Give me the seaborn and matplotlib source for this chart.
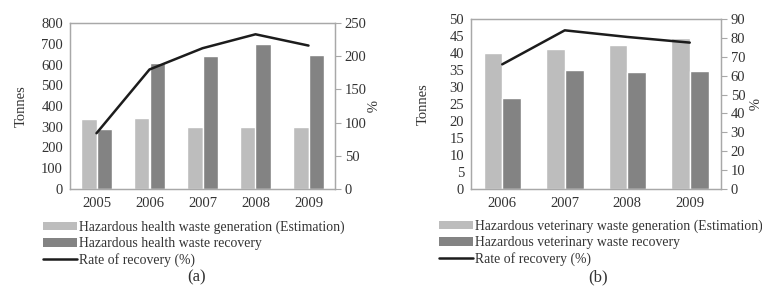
import pandas as pd
import matplotlib
matplotlib.use("Agg")
import matplotlib.pyplot as plt
import seaborn as sns
from matplotlib.patches import Patch
from matplotlib.lines import Line2D


# Data

years_a = ["2005", "2006", "2007", "2008", "2009"]
health_generation = [335, 340, 300, 300, 300]
health_recovery = [288, 606, 641, 697, 644]
health_rate = [84, 180, 212, 233, 216]

years_b = ["2006", "2007", "2008", "2009"]
vet_generation = [40.0, 41.3, 42.4, 44.3]
vet_recovery = [26.8, 35.1, 34.3, 34.7]
vet_rate = [66, 84, 80.5, 77.5]

LIGHT = "#bdbdbd"
DARK = "#838383"
LINE = "#1c1c1c"
FRAME = "#a8a8a8"
TEXT = "#333333"

sns.set_style("white")
plt.rcParams["font.family"] = ["Liberation Serif", "DejaVu Serif"]
plt.rcParams["text.color"] = TEXT
plt.rcParams["axes.labelcolor"] = TEXT
plt.rcParams["xtick.color"] = TEXT
plt.rcParams["ytick.color"] = TEXT


def panel(fig, rect, years, gen, rec, rate, gen_label, rec_label,
          ylim, ystep, rlim, rstep, bar_width, legend_anchor, pad_left, pad_right):

    ax = fig.add_axes(rect)

    df = pd.DataFrame({
        "Year": years * 2,
        "Tonnes": gen + rec,
        "Series": [gen_label] * len(years) + [rec_label] * len(years)
    })

    sns.barplot(
        data=df,
        x="Year",
        y="Tonnes",
        hue="Series",
        palette=[LIGHT, DARK],
        width=bar_width,
        saturation=1,
        legend=False,
        ax=ax
    )

    ax.set_ylim(*ylim)
    ax.set_yticks(range(0, ylim[1] + 1, ystep))
    ax.set_xlabel("")
    ax.set_ylabel("Tonnes", fontsize=10.5, labelpad=pad_left)
    ax.tick_params(axis="y", length=0, labelsize=10.5, pad=5)
    ax.tick_params(axis="x", which="major", length=0, labelsize=10.5, pad=6)
    ax.set_xticks([i + 0.5 for i in range(len(years) - 1)], minor=True)
    ax.tick_params(axis="x", which="minor", length=3, color=FRAME, direction="out")

    for sp in ax.spines.values():
        sp.set_color(FRAME)
        sp.set_linewidth(0.9)

    ax2 = ax.twinx()

    sns.pointplot(
        x=years,
        y=rate,
        color=LINE,
        markers="",
        linewidth=1.8,
        ax=ax2
    )

    ax2.set_ylim(*rlim)
    ax2.set_yticks(range(0, rlim[1] + 1, rstep))
    ax2.set_ylabel("%", fontsize=10.5, rotation=270, labelpad=pad_right)
    ax2.tick_params(axis="y", length=4, color=FRAME, labelsize=10.5, pad=3)
    ax2.set_xlim(ax.get_xlim())

    for sp in ax2.spines.values():
        sp.set_color(FRAME)
        sp.set_linewidth(0.9)

    handles = [
        Patch(facecolor=LIGHT, edgecolor="none"),
        Patch(facecolor=DARK, edgecolor="none"),
        Line2D([0], [0], color=LINE, linewidth=1.8)
    ]

    ax.legend(
        handles,
        [gen_label, rec_label, "Rate of recovery (%)"],
        loc="upper left",
        bbox_to_anchor=legend_anchor,
        frameon=False,
        fontsize=9.9,
        handlelength=2.5,
        handleheight=0.6,
        handletextpad=0.15,
        labelspacing=0.22,
        borderpad=0,
        borderaxespad=0
    )

    return ax


fig = plt.figure(figsize=(7.62, 3.02), dpi=100)

panel(
    fig,
    [70 / 762, 113 / 302, 265 / 762, 166 / 302],
    years_a, health_generation, health_recovery, health_rate,
    "Hazardous health waste generation (Estimation)",
    "Hazardous health waste recovery",
    (0, 800), 100, (0, 250), 50,
    0.57, (-0.102, -0.19), 10, 6
)

panel(
    fig,
    [471 / 762, 113 / 302, 250 / 762, 170 / 302],
    years_b, vet_generation, vet_recovery, vet_rate,
    "Hazardous veterinary waste generation (Estimation)",
    "Hazardous veterinary waste recovery",
    (0, 50), 5, (0, 90), 10,
    0.6, (-0.128, -0.18), 14, 9
)

fig.text(197 / 762, 1 - 277 / 302, "(a)", ha="center", va="center", fontsize=12)
fig.text(598 / 762, 1 - 277 / 302, "(b)", ha="center", va="center", fontsize=12)

fig.savefig("out.png", dpi=100)
